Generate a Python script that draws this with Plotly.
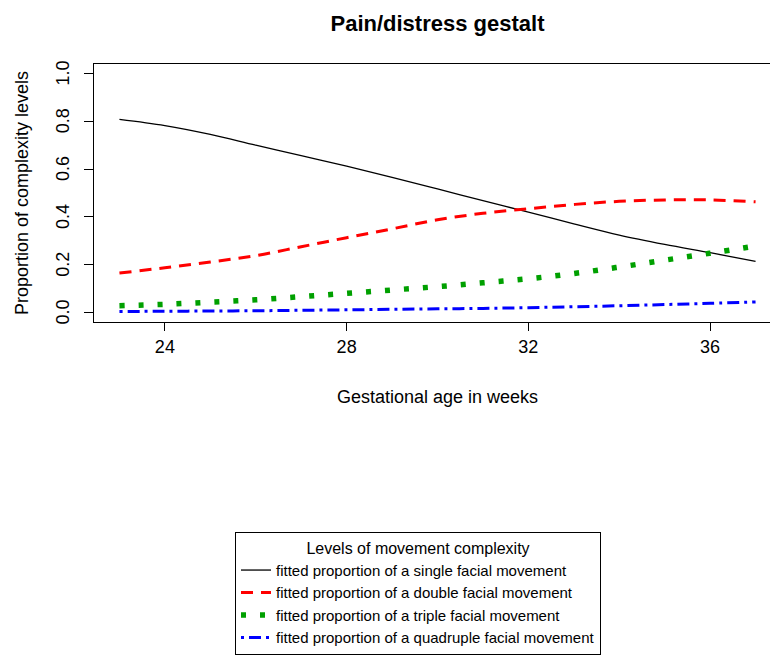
import plotly.graph_objects as go

weeks = [23, 24, 25, 26, 27, 28, 29, 30, 31, 32, 33, 34, 35, 36, 37]
single = [0.808, 0.782, 0.745, 0.700, 0.656, 0.612, 0.565, 0.517, 0.468, 0.420, 0.371, 0.324, 0.285, 0.250, 0.214]
double = [0.165, 0.187, 0.211, 0.238, 0.275, 0.313, 0.350, 0.388, 0.415, 0.434, 0.452, 0.465, 0.471, 0.471, 0.463]
triple = [0.028, 0.034, 0.043, 0.053, 0.066, 0.080, 0.094, 0.108, 0.124, 0.141, 0.163, 0.190, 0.219, 0.248, 0.278]
quadruple = [0.004, 0.005, 0.006, 0.007, 0.009, 0.011, 0.013, 0.015, 0.017, 0.020, 0.024, 0.028, 0.033, 0.038, 0.044]

names = [
    "fitted proportion of a single facial movement",
    "fitted proportion of a double facial movement",
    "fitted proportion of a triple facial movement",
    "fitted proportion of a quadruple facial movement",
]
x_ticks = [24, 28, 32, 36]
y_ticks = [0.0, 0.2, 0.4, 0.6, 0.8, 1.0]
y_tick_labels = ["0.0", "0.2", "0.4", "0.6", "0.8", "1.0"]

FONT = "Liberation Sans, Arial, sans-serif"
W, H = 778, 658
L, R, T, B = 86, 5, 56, 344
PW, PH = W - L - R, H - T - B

fig = go.Figure()
styles = [
    dict(color="black", width=1.3, dash="solid"),
    dict(color="#FF0000", width=3, dash="12px,8px"),
    dict(color="#00A000", width=5.5, dash="5px,14px"),
    dict(color="#0000FF", width=3, dash="3px,5px,12px,5px"),
]
for ys, nm, st in zip([single, double, triple, quadruple], names, styles):
    fig.add_trace(go.Scatter(x=weeks, y=ys, mode="lines", name=nm,
                             line=dict(shape="spline", smoothing=1.0, **st)))

annotations = [
    dict(text="Gestational age in weeks", xref="paper", yref="paper",
         x=0.5, y=-(389 - (T + PH)) / PH, xanchor="center", yanchor="middle",
         showarrow=False, font=dict(size=18, family=FONT)),
    dict(text="Proportion of complexity levels", xref="paper", yref="paper",
         x=-(L - 14) / PW, y=0.5, xanchor="center", yanchor="middle",
         textangle=-90, showarrow=False, font=dict(size=18, family=FONT)),
]
# y tick labels (rotated, R style) placed through the y scale
for v, lab in zip(y_ticks, y_tick_labels):
    annotations.append(dict(text=lab, xref="paper", yref="y", x=-(L - 55) / PW, y=v,
                            xanchor="center", yanchor="middle", textangle=-90,
                            showarrow=False, font=dict(size=18, family=FONT)))

fig.update_layout(
    width=W, height=H,
    margin=dict(l=L, r=R, t=T, b=B, autoexpand=False),
    paper_bgcolor="white", plot_bgcolor="white",
    font=dict(family=FONT, size=18, color="black"),
    title=dict(text="<b>Pain/distress gestalt</b>", x=0.5, xanchor="center",
               xref="paper", yref="container", y=1 - 15 / H, yanchor="middle",
               font=dict(size=22, family=FONT)),
    showlegend=True,
    legend=dict(
        xref="container", yref="container",
        x=227 / W, y=1 - 524 / H, xanchor="left", yanchor="top",
        bordercolor="black", borderwidth=1, bgcolor="white",
        font=dict(size=15, family=FONT),
        title=dict(text="Levels of movement complexity", side="top center",
                   font=dict(size=16, family=FONT)),
        tracegroupgap=0, itemwidth=30,
    ),
    annotations=annotations,
)
fig.update_xaxes(
    range=[22.44, 37.56], tickvals=x_ticks, ticktext=[str(v) for v in x_ticks],
    showline=True, linecolor="black", linewidth=1, mirror=True,
    ticks="outside", ticklen=8, tickcolor="black", showgrid=False, zeroline=False,
    tickfont=dict(size=18),
)
fig.update_yaxes(
    range=[-0.04, 1.04], tickvals=y_ticks, showticklabels=False,
    showline=True, linecolor="black", linewidth=1, mirror=True,
    ticks="outside", ticklen=9, tickcolor="black", showgrid=False, zeroline=False,
)

fig.write_html("out.html")
